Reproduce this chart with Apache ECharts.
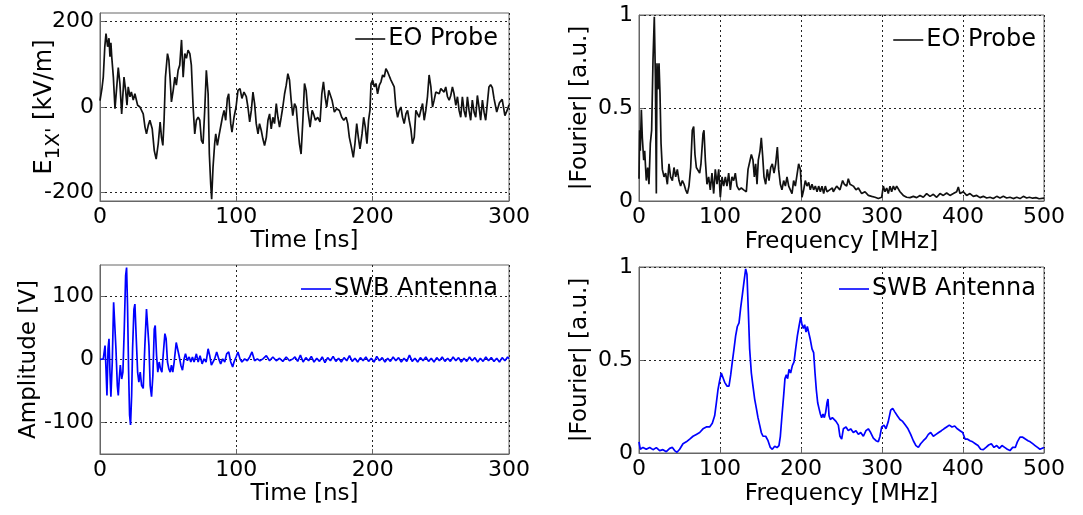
<!DOCTYPE html>
<html><head><meta charset="utf-8">
<script src="https://cdn.jsdelivr.net/npm/echarts@6/dist/echarts.min.js"></script>
<style>html,body{margin:0;padding:0;background:#fff}#c{width:1083px;height:515px}</style>
</head><body><div id="c"></div>
<script>
// ---- Data ----
const eoTimeTrace = [[0,15],[1.5,45],[2.4,70],[3.5,140],[4.4,172],[5.6,141],[6.6,161],[7.3,118],[8,150],[8.6,118],[9.8,70],[11,-4],[12,-8],[13.4,92],[14.6,55],[15.9,-16],[17.6,70],[18.8,39],[19.8,4],[20.7,47],[22,24],[23,35],[24.4,16],[25.6,31],[27.6,4],[29.3,0],[31.7,-16],[33,-47],[34.1,-63],[35.4,-43],[36.6,-31],[38.3,-51],[39.8,-102],[41.2,-122],[42.7,-86],[44.1,-35],[45.1,-71],[46.1,-90],[47,-31],[48,70],[49.5,125],[50.5,110],[51.5,63],[52.4,12],[53.7,39],[54.9,70],[56,51],[57.3,86],[58.5,98],[59.8,157],[61,70],[62.2,125],[63.4,114],[64.6,133],[65.9,125],[67,98],[68.3,0],[69.5,-63],[70.7,-31],[72,-24],[73.2,-31],[74.4,-78],[75.6,-86],[76.8,-8],[78,86],[79.3,31],[80.2,-110],[81.2,-180],[81.9,-216],[82.9,-141],[84.1,-86],[84.9,-63],[86.1,-90],[87.3,-67],[88.5,-71],[89.8,-24],[91,-8],[92.2,-31],[93.4,20],[94.4,31],[95.9,-39],[96.8,-59],[98.3,-24],[99.8,0],[101.2,39],[102.7,43],[104.1,20],[105.6,35],[107.3,24],[108.5,0],[109.8,-35],[111,-8],[112.2,35],[113.4,8],[114.6,-39],[115.9,-63],[117,-39],[118.3,-55],[119.5,-75],[120.7,-90],[122,-71],[123.2,-31],[124.4,-16],[125.6,-51],[126.8,-24],[128,-39],[129.3,8],[130.5,-24],[131.7,-47],[132.9,-24],[134.1,0],[135.4,31],[136.6,51],[137.8,78],[139,63],[140.2,16],[141.4,-20],[142.7,8],[143.9,0],[145.1,-47],[146.3,-86],[147.5,-110],[148.8,-31],[150,55],[151.2,39],[152.4,-8],[154.1,-47],[155.6,-8],[156.6,-16],[158,-31],[159.7,-24],[161.4,-35],[162.7,31],[163.9,59],[165.1,24],[166.3,0],[167.8,39],[169,43],[170.2,16],[171.9,-12],[173.6,-4],[175.6,-8],[177.3,-24],[178.8,-31],[180.5,-24],[181.7,-39],[182.9,-71],[184.4,-94],[185.8,-118],[187,-86],[188.3,-39],[189.5,-71],[190.7,-98],[192.2,-63],[193.4,-24],[194.6,-47],[195.8,-86],[197,-31],[198,-8],[198.8,55],[200,63],[201.2,47],[202.4,55],[203.6,31],[204.9,51],[206.1,59],[207.3,75],[208.5,70],[209.7,90],[211,82],[212.2,78],[213.4,63],[214.6,59],[215.8,47],[217,0],[218.3,-24],[219.5,-8],[220.7,0],[221.9,-24],[223.1,-39],[224.4,-16],[225.6,-8],[226.8,-31],[228,-51],[229.2,-86],[230.5,-71],[231.7,-8],[232.9,-8],[234.1,-24],[235.3,-8],[236.6,8],[237.8,-31],[239,-8],[240.2,24],[241.4,75],[242.7,47],[243.9,0],[245.1,16],[246.3,35],[247.5,39],[248.8,31],[250,43],[251.2,47],[252.4,35],[253.6,47],[254.9,24],[256.1,16],[257.3,27],[258.5,47],[259.7,31],[261,4],[262.2,24],[263.4,-8],[264.6,-24],[265.8,24],[267,-8],[268.3,-24],[269.5,24],[270.7,-8],[271.9,-31],[273.1,16],[274.4,-12],[275.6,-24],[276.8,27],[278,0],[279.2,-31],[280.5,16],[281.7,-12],[282.9,-31],[285.3,47],[286.5,52],[287.8,45],[289,20],[291,-12],[293,10],[295,18],[297,-20],[299,-5],[300,5]];

const eoSpectrum = [[0,0.12],[0.8,0.38],[1.6,0.27],[2.9,0.49],[4.1,0.34],[5.8,0.22],[7,0.27],[9,0.11],[10.7,0.18],[12.3,0.09],[14,0.31],[15.6,0.38],[17.3,0.76],[18.9,0.99],[20.2,0.67],[21.4,0.04],[22.2,0.74],[23.5,0.6],[24.7,0.74],[25.9,0.58],[27.2,0.31],[28.8,0.17],[30.9,0.13],[32.9,0.15],[35,0.09],[37,0.2],[39,0.13],[41.2,0.11],[43.2,0.18],[45.3,0.13],[47.3,0.17],[49.4,0.11],[51.4,0.08],[53.5,0.11],[55.6,0.09],[57.6,0.06],[59.7,0.04],[61.7,0.08],[63.8,0.18],[65.8,0.38],[67.5,0.4],[69.1,0.25],[70.8,0.18],[72.8,0.17],[74.9,0.15],[76.5,0.2],[79,0.36],[80.2,0.38],[81.9,0.22],[83.9,0.09],[86,0.13],[88,0.06],[90.1,0.15],[92.2,0.04],[94.2,0.17],[96.3,0.09],[98.4,0.17],[100.4,0.02],[102.5,0.13],[104.5,0.08],[106.6,0.13],[108.6,0.08],[110.7,0.15],[112.8,0.06],[114.8,0.13],[116.9,0.11],[118.9,0.15],[121,0.08],[123.5,0.06],[126.3,0.07],[129.2,0.06],[132.5,0.05],[134.6,0.17],[136.6,0.18],[138.7,0.25],[140.7,0.22],[142.4,0.13],[144,0.2],[145.7,0.09],[147.3,0.22],[149.4,0.27],[151,0.34],[152.7,0.24],[154.3,0.13],[156.4,0.09],[158.4,0.17],[160.5,0.11],[162.6,0.18],[164.6,0.2],[166.7,0.15],[168.7,0.2],[170.8,0.29],[172.4,0.17],[174.5,0.09],[176.5,0.06],[178.6,0.11],[180.7,0.08],[182.7,0.13],[184.8,0.08],[186.8,0.09],[188.9,0.04],[190.9,0.11],[193,0.08],[195,0.09],[197.1,0.2],[199.2,0.17],[201.2,0.02],[203.3,0.06],[205.3,0.11],[207.4,0.08],[209.5,0.1],[211.5,0.06],[213.6,0.09],[215.6,0.06],[217.7,0.08],[219.8,0.05],[221.8,0.08],[223.9,0.05],[225.9,0.08],[228,0.04],[230,0.08],[232.1,0.05],[235.4,0.06],[238.7,0.07],[239.9,0.05],[244,0.08],[248.1,0.06],[251.4,0.11],[253.5,0.09],[256.4,0.08],[258.4,0.12],[260.5,0.09],[262.5,0.08],[264.6,0.08],[267.9,0.06],[270.8,0.07],[274.9,0.04],[279,0.05],[283.1,0.03],[287.2,0.025],[291.4,0.02],[295.5,0.013],[299.6,0.02],[301.6,0.08],[303.7,0.05],[305.8,0.07],[307.8,0.04],[309.9,0.08],[311.9,0.05],[314,0.08],[316,0.06],[318.1,0.08],[320.2,0.08],[322.2,0.05],[326.3,0.03],[330.4,0.02],[334.6,0.018],[338.7,0.025],[342.8,0.018],[346.9,0.03],[351,0.02],[355.1,0.04],[359.3,0.025],[363.4,0.036],[367.5,0.02],[371.6,0.04],[375.7,0.03],[379.8,0.043],[383.9,0.03],[388.1,0.04],[392.2,0.05],[394.2,0.075],[396.3,0.04],[400.4,0.05],[404.5,0.03],[408.6,0.04],[412.8,0.025],[416.9,0.03],[421,0.018],[425.1,0.025],[429.2,0.016],[433.3,0.02],[437.4,0.013],[441.6,0.025],[445.7,0.016],[449.8,0.025],[453.9,0.016],[458,0.02],[462.1,0.013],[466.3,0.02],[470.4,0.013],[474.5,0.025],[478.6,0.016],[482,0.02],[486,0.015],[490,0.018],[494,0.012],[500,0.015]];

const swbTimeTrace = [[0,0],[2.4,1],[3.7,22],[4.4,-15],[5.1,-57],[5.9,17],[6.6,33],[7.3,-20],[8,-59],[9,-4],[10,91],[10.7,93],[11.7,17],[12.7,-41],[13.4,-57],[14.1,-31],[14.9,-9],[15.9,-31],[16.8,-20],[17.8,48],[18.8,133],[19.5,146],[20.2,85],[21,-20],[21.7,-88],[22.4,-104],[23.2,-57],[23.9,17],[24.9,80],[25.6,88],[26.6,33],[27.6,-20],[28.5,-36],[29.5,-20],[30.5,-41],[31.7,-46],[32.9,22],[34.1,80],[34.9,77],[35.9,22],[36.8,-41],[37.8,-59],[38.8,-25],[39.8,48],[40.5,54],[41.5,6],[42.4,-20],[43.4,-4],[44.4,-15],[45.4,-20],[46.3,6],[47.6,41],[48.5,33],[49.5,-4],[50.5,-15],[51.5,-20],[52.4,-9],[53.4,-20],[54.4,-4],[55.9,27],[56.8,27],[58,6],[59.3,-9],[60.5,-17],[61.7,1],[62.7,9],[64.1,-2],[65.4,4],[66.6,-4],[67.8,4],[69,-4],[70.7,9],[72,-4],[73.4,6],[74.9,-7],[76.3,1],[77.8,-4],[79.3,17],[80.5,6],[81.7,-9],[82.9,-12],[84.1,1],[85.6,12],[87.1,1],[88.5,-7],[90,1],[91.5,-4],[92.9,9],[94.4,12],[95.9,-4],[97.3,-12],[98.3,-4],[99.8,4],[101.2,12],[102.7,1],[104.1,-4],[106.1,1],[108,-2],[109.8,4],[111.5,12],[113.4,-2],[115.4,1],[117.3,-2],[119.5,1],[122,6],[124.4,-2],[126.8,4],[129.3,-2],[131.7,2],[134.1,-3],[136.6,4],[139,-2],[141.5,1],[143,4],[145,-3],[147,7],[149,-4],[151,3],[153,-2],[155,5],[157,-4],[159,2],[161,-3],[163,4],[165,-5],[167,3],[169,-2],[171,5],[173,-3],[175,2],[177,-4],[179,3],[181,-2],[183,6],[185,-3],[187,2],[189,-4],[191,3],[193,-2],[195,4],[197,-3],[199,2],[201,-4],[203,5],[205,-2],[207,3],[209,-4],[211,2],[213,-3],[215,4],[217,-2],[219,3],[221,-4],[223,2],[225,-3],[227,7],[229,-3],[231,2],[233,-4],[235,3],[237,-2],[239,4],[241,-3],[243,2],[245,-4],[247,3],[249,-2],[251,4],[253,-3],[255,2],[257,-3],[259,4],[261,-2],[263,3],[265,-4],[267,2],[269,-3],[271,4],[273,-2],[275,3],[277,-4],[279,2],[281,-3],[283,4],[285,-2],[287,3],[289,-3],[291,2],[293,-4],[295,3],[297,-2],[299,4],[300,1]];

const swbSpectrum = [[0,0.06],[1.6,0.02],[4.9,0.03],[9,0.02],[13.2,0.03],[17.3,0.018],[21.4,0.029],[25.5,0.013],[29.6,0.018],[33.7,0.007],[37.9,0.025],[41.2,0.03],[44,0.013],[46.9,0.004],[50.2,0.02],[54.3,0.05],[58.4,0.06],[62.6,0.075],[66.7,0.09],[70.8,0.1],[74.9,0.11],[79,0.13],[83.1,0.14],[87.2,0.14],[90.5,0.16],[93.4,0.2],[95.5,0.27],[97.5,0.34],[99.6,0.39],[101.6,0.43],[103.7,0.42],[105.8,0.38],[108.6,0.36],[111.1,0.36],[113.2,0.42],[115.2,0.49],[117.3,0.56],[119.3,0.63],[121.4,0.68],[123.5,0.7],[125.5,0.78],[127.6,0.85],[129.6,0.92],[131.7,0.99],[133.3,0.96],[135,0.76],[136.6,0.56],[138.7,0.43],[140.7,0.36],[142.8,0.29],[144.9,0.24],[146.9,0.19],[149,0.15],[151,0.11],[153.1,0.09],[156.4,0.09],[159.3,0.066],[162.1,0.03],[164.6,0.02],[167.5,0.036],[170.4,0.029],[172.8,0.04],[174.5,0.09],[176.5,0.2],[178.6,0.31],[180.2,0.4],[181.9,0.42],[183.5,0.4],[185.2,0.45],[187.2,0.43],[189.3,0.47],[191.4,0.49],[193.4,0.56],[195.5,0.63],[197.5,0.68],[199.6,0.73],[201.2,0.69],[202.9,0.67],[204.5,0.69],[206.2,0.65],[207.8,0.68],[209.5,0.67],[211.5,0.61],[213.6,0.56],[215.6,0.54],[217.3,0.43],[218.9,0.34],[220.6,0.27],[222.2,0.24],[223.9,0.21],[225.5,0.19],[227.2,0.21],[228.8,0.19],[230.5,0.22],[232.1,0.27],[233.3,0.29],[234.6,0.2],[236.2,0.18],[238.7,0.19],[239.9,0.18],[243.2,0.17],[246.1,0.15],[248.1,0.09],[250.2,0.075],[252.3,0.13],[255.6,0.14],[258.4,0.12],[261.3,0.13],[264.6,0.11],[267.9,0.12],[270.8,0.1],[273.7,0.11],[277,0.09],[280.2,0.12],[283.1,0.13],[286,0.11],[289.3,0.08],[292.6,0.066],[295.5,0.06],[297.5,0.09],[299.6,0.14],[302.5,0.15],[304.9,0.13],[307.8,0.17],[310.7,0.23],[313.2,0.24],[316,0.22],[318.9,0.2],[322.2,0.18],[325.5,0.17],[328.8,0.15],[332.1,0.13],[335.4,0.1],[338.7,0.066],[341.9,0.04],[344.9,0.03],[347.7,0.05],[351,0.066],[354.3,0.08],[357.2,0.1],[360.1,0.11],[363.4,0.09],[366.7,0.1],[370,0.11],[373.3,0.12],[376.5,0.13],[379.8,0.14],[383.1,0.15],[386.4,0.14],[389.7,0.145],[393,0.13],[396.3,0.12],[399.6,0.11],[402.5,0.075],[405.3,0.075],[408.6,0.066],[411.9,0.06],[415.2,0.05],[418.5,0.04],[421.8,0.02],[425.1,0.018],[428.4,0.03],[431.7,0.043],[435,0.05],[438.3,0.03],[441.6,0.04],[444.9,0.025],[448.1,0.04],[451.4,0.03],[454.7,0.02],[458,0.013],[461.3,0.03],[464.6,0.03],[467.1,0.06],[470.4,0.085],[473.7,0.085],[477,0.075],[480.2,0.066],[483,0.06],[486,0.05],[489,0.04],[492,0.03],[495,0.02],[497,0.01],[500,0.03]];

const eoFieldTicks = [-200, 0, 200];
const swbAmpTicks = [-100, 0, 100];

// ---- Chart ----
const FONT = '"DejaVu Sans", "Liberation Sans", Arial, sans-serif';
const TICK = {fontSize: 22, color: '#000', fontFamily: FONT};
const NAME = {fontSize: 23, color: '#000', fontFamily: FONT};
const LEG = {fontSize: 24, color: '#000', fontFamily: FONT};
const FRAME = '#666';
const gridLine = {show: true, lineStyle: {type: [2, 3], color: '#222', width: 1}};

function xAxis(gi, max, name, gap) {
  return {
    gridIndex: gi, type: 'value', min: 0, max: max, interval: 100,
    name: name, nameLocation: 'middle', nameGap: gap, nameTextStyle: NAME,
    axisLine: {show: true, onZero: false, lineStyle: {color: FRAME}},
    axisTick: {show: true, inside: true, length: 5, lineStyle: {color: FRAME}},
    axisLabel: Object.assign({margin: 5}, TICK),
    splitLine: gridLine
  };
}
function yAxis(gi, min, max, opts) {
  const a = {
    gridIndex: gi, type: 'value', min: min, max: max,
    nameLocation: 'middle', nameRotate: 90,
    axisLine: {show: true, onZero: false, lineStyle: {color: FRAME}},
    axisTick: {show: true, inside: true, length: 5, lineStyle: {color: FRAME}},
    axisLabel: Object.assign({margin: 6}, TICK),
    splitLine: gridLine
  };
  return Object.assign(a, opts);
}
function legend(name, right, top) {
  return {data: [name], right: right, top: top, padding: 0, icon: 'rect', itemWidth: 30, itemHeight: 1.6,
          itemGap: 0, textStyle: Object.assign({padding: [0, 0, 0, -2]}, LEG), selectedMode: false};
}

const option = {
  backgroundColor: '#fff',
  animation: false,
  grid: [
    {left: 100, top: 13, width: 409, height: 188, show: true, borderColor: FRAME, borderWidth: 1},
    {left: 639, top: 15, width: 405, height: 186, show: true, borderColor: FRAME, borderWidth: 1},
    {left: 100, top: 265, width: 409, height: 189, show: true, borderColor: FRAME, borderWidth: 1},
    {left: 639, top: 267, width: 405, height: 186, show: true, borderColor: FRAME, borderWidth: 1}
  ],
  xAxis: [
    xAxis(0, 300, 'Time [ns]', 29),
    xAxis(1, 500, 'Frequency [MHz]', 30),
    xAxis(2, 300, 'Time [ns]', 29),
    xAxis(3, 500, 'Frequency [MHz]', 30)
  ],
  yAxis: [
    yAxis(0, -220, 220, {
      name: "{m|E}{s|1X'}{m| [kV/m]}", nameGap: 36, nameMoveOverlap: false,
      nameTextStyle: {fontFamily: FONT, color: '#000', rich: {
        m: {fontSize: 24, fontFamily: FONT, color: '#000', verticalAlign: 'bottom', padding: [0, 0, 7, 0]},
        s: {fontSize: 20, fontFamily: FONT, color: '#000', verticalAlign: 'bottom'}
      }},
      axisLabel: Object.assign({margin: 6, customValues: eoFieldTicks}, TICK),
      axisTick: {show: true, inside: true, length: 5, customValues: eoFieldTicks, lineStyle: {color: FRAME}}
    }),
    yAxis(1, 0, 1, {interval: 0.5, name: '|Fourier| [a.u.]', nameGap: 47, nameTextStyle: NAME}),
    yAxis(2, -150, 150, {
      name: 'Amplitude [V]', nameGap: 59, nameTextStyle: NAME,
      axisLabel: Object.assign({margin: 6, customValues: swbAmpTicks}, TICK),
      axisTick: {show: true, inside: true, length: 5, customValues: swbAmpTicks, lineStyle: {color: FRAME}}
    }),
    yAxis(3, 0, 1, {interval: 0.5, name: '|Fourier| [a.u.]', nameGap: 47, nameTextStyle: NAME})
  ],
  legend: [
    legend('EO Probe', 585, 27),
    legend('EO Probe', 47, 28),
    legend('SWB Antenna', 585, 277),
    legend('SWB Antenna', 47, 277)
  ],
  series: [
    {name: 'EO Probe', type: 'line', xAxisIndex: 0, yAxisIndex: 0, data: eoTimeTrace, showSymbol: false, color: '#111', lineStyle: {width: 1.7}},
    {name: 'EO Probe', type: 'line', xAxisIndex: 1, yAxisIndex: 1, data: eoSpectrum, showSymbol: false, color: '#111', lineStyle: {width: 1.7}},
    {name: 'SWB Antenna', type: 'line', xAxisIndex: 2, yAxisIndex: 2, data: swbTimeTrace, showSymbol: false, color: '#0000ff', lineStyle: {width: 1.7}},
    {name: 'SWB Antenna', type: 'line', xAxisIndex: 3, yAxisIndex: 3, data: swbSpectrum, showSymbol: false, color: '#0000ff', lineStyle: {width: 1.7}}
  ]
};
const chart = echarts.init(document.getElementById('c'));
chart.setOption(option);
</script>
</body></html>
